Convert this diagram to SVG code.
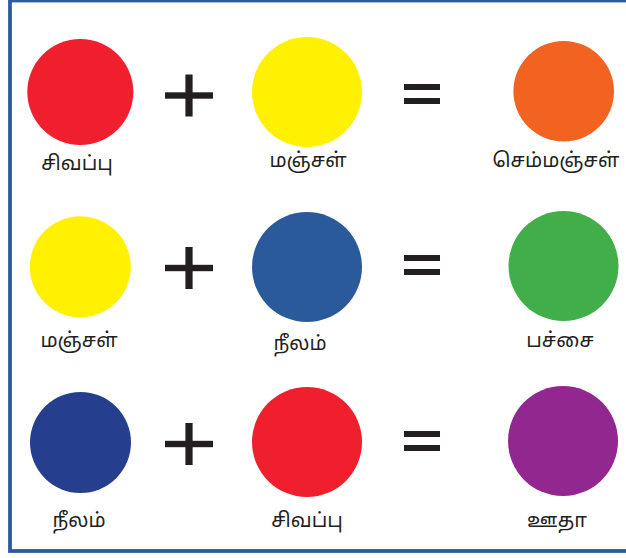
<svg xmlns="http://www.w3.org/2000/svg" width="626" height="558" viewBox="0 0 626 558">
<style>
.lbl{font-family:"Noto Sans Tamil","Noto Sans",sans-serif;font-size:20px;fill:#231f20;text-anchor:middle}
.op{fill:#231f20}
</style>
<defs>
<g id="plus"><rect x="-24" y="-3.2" width="48" height="6.4"/><rect x="-3.6" y="-21" width="7.2" height="42"/></g>
<g id="eq"><rect x="-18" y="-11" width="36" height="6"/><rect x="-18" y="3" width="36" height="6"/></g>
</defs>
<rect x="10" y="0.5" width="630" height="550.5" fill="#ffffff" stroke="#2e5a9c" stroke-width="3.8"/>
<g id="row1">
<g id="red1"><circle cx="80.3" cy="92" r="53" fill="#ef1f2d"/><text class="lbl" x="77" y="170">சிவப்பு</text></g>
<g id="plus1" class="op"><use href="#plus" x="189" y="95.5"/></g>
<g id="yellow1"><circle cx="307" cy="92" r="55" fill="#fff100"/><text class="lbl" x="308" y="167">மஞ்சள்</text></g>
<g id="eq1" class="op"><use href="#eq" x="422" y="95"/></g>
<g id="orange1"><circle cx="563.7" cy="91.3" r="50.3" fill="#f26322"/><text class="lbl" x="556" y="167">செம்மஞ்சள்</text></g>
</g>
<g id="row2">
<g id="yellow2"><circle cx="80.3" cy="266.8" r="50.5" fill="#fff100"/><text class="lbl" x="79" y="347">மஞ்சள்</text></g>
<g id="plus2" class="op"><use href="#plus" x="189" y="268"/></g>
<g id="blue2"><circle cx="307" cy="267" r="55" fill="#2a5a9a"/><text class="lbl" x="300" y="350">நீலம்</text></g>
<g id="eq2" class="op"><use href="#eq" x="422" y="266"/></g>
<g id="green2"><circle cx="563.5" cy="266" r="55" fill="#41ae4a"/><text class="lbl" x="560" y="347">பச்சை</text></g>
</g>
<g id="row3">
<g id="navy3"><circle cx="80.5" cy="442.5" r="50.5" fill="#253f8e"/><text class="lbl" x="79" y="527">நீலம்</text></g>
<g id="plus3" class="op"><use href="#plus" x="189" y="444"/></g>
<g id="red3"><circle cx="307" cy="442" r="55" fill="#ef1f2d"/><text class="lbl" x="307" y="527">சிவப்பு</text></g>
<g id="eq3" class="op"><use href="#eq" x="422" y="442"/></g>
<g id="purple3"><circle cx="563" cy="441" r="55" fill="#92278f"/><text class="lbl" x="557" y="527">ஊதா</text></g>
</g>
<g id="connectors"/>
</svg>
